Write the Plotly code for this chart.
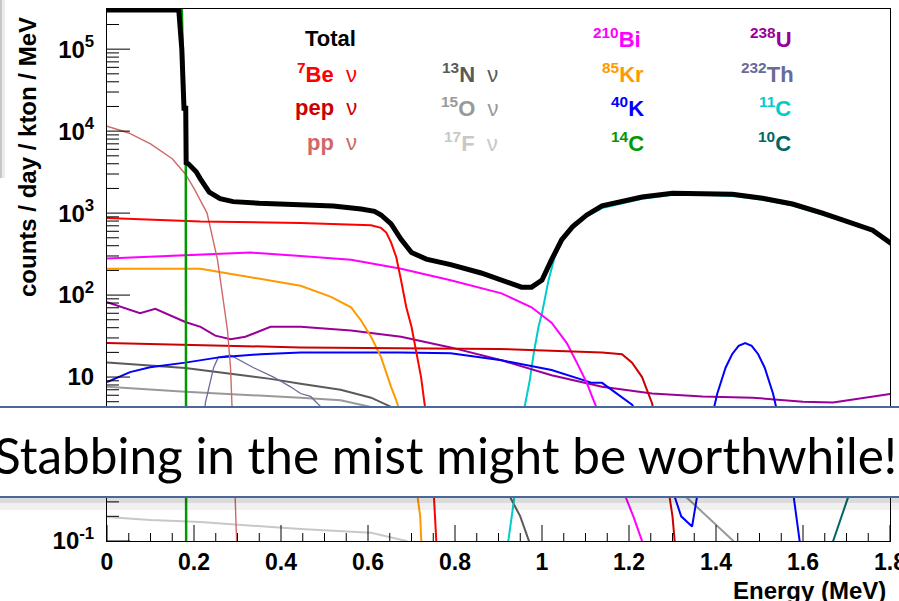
import math
import plotly.graph_objects as go

# ---------------- data ----------------
E_total = [0.0, 0.165, 0.172, 0.177, 0.181, 0.182, 0.187, 0.205, 0.215, 0.235, 0.26, 0.29, 0.35, 0.445,
           0.52, 0.584, 0.615, 0.63, 0.653, 0.676, 0.70, 0.734, 0.79, 0.86, 0.907, 0.953, 0.976, 1.0,
           1.022, 1.045, 1.07, 1.103, 1.138, 1.23, 1.30, 1.37, 1.438, 1.507, 1.576, 1.645, 1.715, 1.76, 1.807]
V_total = [3.0e5, 3.0e5, 1e5, 1.9e4, 1.9e4, 4.1e3, 4.0e3, 3.2e3, 2.6e3, 1.8e3, 1.5e3, 1.38e3, 1.32e3, 1.27e3,
           1.22e3, 1.12e3, 1.05e3, 9.5e2, 7.4e2, 4.8e2, 3.3e2, 2.75e2, 2.35e2, 1.86e2, 1.52e2, 1.25e2, 1.25e2, 1.52e2,
           2.7e2, 4.7e2, 6.8e2, 9.5e2, 1.23e3, 1.57e3, 1.75e3, 1.75e3, 1.7e3, 1.52e3, 1.29e3, 1.0e3, 7.6e2, 6.2e2, 4.1e2]

E_be7 = [0.0, 0.215, 0.445, 0.561, 0.607, 0.63, 0.642, 0.653, 0.665, 0.676, 0.688, 0.70, 0.711, 0.722, 0.729, 0.74, 0.75, 0.76]
V_be7 = [8.7e2, 7.9e2, 7.6e2, 7.3e2, 7.1e2, 6.6e2, 5.8e2, 4.4e2, 2.9e2, 1.52e2, 71, 41, 21, 10, 5.2, 2.0, 0.5, 0.05]

E_pep = [0.0, 0.445, 0.9, 1.138, 1.184, 1.207, 1.23, 1.242, 1.253, 1.28, 1.30, 1.31]
V_pep = [26, 23, 22, 20, 19, 15, 10, 7.0, 4.8, 1.0, 0.2, 0.05]

E_pp = [0.0, 0.05, 0.1, 0.15, 0.18, 0.2, 0.23, 0.254, 0.265, 0.277, 0.284, 0.288, 0.292, 0.296, 0.30]
V_pp = [1.15e4, 9.5e3, 7.0e3, 4.6e3, 3.0e3, 2.0e3, 1.0e3, 2.7e2, 1.05e2, 37, 13, 4.3, 1.0, 0.2, 0.05]

E_n13 = [0.0, 0.18, 0.284, 0.376, 0.445, 0.537, 0.607, 0.653, 0.75, 0.85, 0.92, 0.95, 0.97, 0.98]
V_n13 = [15, 12.9, 11, 9.5, 8.3, 7.0, 5.6, 4.3, 2.5, 1.0, 0.4, 0.2, 0.1, 0.05]

E_o15 = [0.0, 0.18, 0.445, 0.537, 0.607, 0.8, 1.0, 1.2, 1.33, 1.38, 1.44, 1.45]
V_o15 = [7.6, 6.6, 5.6, 5.2, 4.3, 2.8, 1.6, 0.8, 0.35, 0.2, 0.1, 0.05]

E_f17 = [0.0, 0.1, 0.215, 0.295, 0.445, 0.607, 0.665, 0.688, 0.70]
V_f17 = [0.196, 0.18, 0.17, 0.158, 0.14, 0.126, 0.106, 0.1, 0.09]

E_bi210 = [0.0, 0.215, 0.33, 0.445, 0.561, 0.676, 0.79, 0.907, 0.976, 1.022, 1.057, 1.08, 1.103, 1.115, 1.15, 1.18, 1.21, 1.25]
V_bi210 = [2.8e2, 3.1e2, 3.3e2, 3.0e2, 2.7e2, 2.1e2, 1.52e2, 1.05e2, 71, 46, 26, 15, 8.5, 5.8, 2.0, 0.5, 0.2, 0.05]

E_kr85 = [0.0, 0.215, 0.33, 0.445, 0.515, 0.561, 0.584, 0.607, 0.63, 0.642, 0.653, 0.665, 0.69, 0.71, 0.72, 0.725]
V_kr85 = [2.1e2, 2.1e2, 1.65e2, 1.3e2, 95, 71, 49, 31, 17.5, 11, 7.6, 5.2, 2.0, 0.5, 0.2, 0.05]

E_k40 = [0.0, 0.053, 0.099, 0.18, 0.261, 0.353, 0.445, 0.676, 0.79, 0.907, 1.022, 1.115, 1.138, 1.172, 1.207,
         1.25, 1.29, 1.32, 1.345, 1.36, 1.377, 1.403, 1.422, 1.437, 1.452, 1.467, 1.482, 1.497, 1.512, 1.531,
         1.557, 1.577, 1.597, 1.61]
V_k40 = [8.7, 11.5, 13.2, 15, 17.5, 19, 20, 20, 19.5, 16, 12.2, 8.5, 8.5, 6.3, 4.6,
         2.0, 0.6, 0.2, 0.15, 0.45, 1.6, 6.3, 13, 19, 24, 26, 24, 19, 13, 6.3,
         1.6, 0.4, 0.075, 0.02]

E_c14 = [0.0, 0.172, 0.177, 0.181, 0.182]
V_c14 = [3.0e5, 3.0e5, 1.9e4, 1.9e4, 0.05]

E_u238 = [0.0, 0.076, 0.111, 0.145, 0.18, 0.215, 0.249, 0.284, 0.318, 0.376, 0.445, 0.561, 0.676, 0.79, 0.907,
          1.022, 1.138, 1.253, 1.369, 1.484, 1.60, 1.669, 1.738, 1.807]
V_u238 = [82, 60, 68, 57, 47, 41, 32, 29, 31, 41, 41, 37, 31, 23, 16,
          10.5, 7.6, 6.3, 5.8, 5.6, 5.0, 4.9, 5.6, 6.3]

E_th232 = [0.218, 0.226, 0.245, 0.256, 0.284, 0.337, 0.383, 0.422, 0.445, 0.468, 0.492, 0.52, 0.55]
V_th232 = [1.0, 4.8, 13, 17.5, 18.5, 13, 10, 7.6, 6.3, 5.8, 4.3, 2.0, 1.0]

E_c11 = [0.92, 0.935, 0.95, 0.96, 0.972, 0.981, 0.992, 1.0, 1.015, 1.029, 1.052, 1.075, 1.138, 1.23, 1.30,
         1.37, 1.438, 1.507, 1.576, 1.645, 1.715, 1.76, 1.807]
V_c11 = [0.08, 0.3, 1.5, 4.3, 9.2, 19.5, 41, 60, 1.52e2, 2.9e2, 5.1e2, 7.6e2, 1.15e3, 1.5e3, 1.68e3,
         1.68e3, 1.62e3, 1.45e3, 1.24e3, 9.6e2, 7.3e2, 6.0e2, 3.95e2]

E_c10 = [1.65, 1.68, 1.70, 1.72, 1.75, 1.80]
V_c10 = [0.05, 0.15, 0.3, 0.6, 1.5, 4.0]

# name, E, V, color, width  (drawing order: first = bottom)
series = [
    ("17F", E_f17, V_f17, "#c8c8c8", 2),
    ("15O", E_o15, V_o15, "#999999", 2),
    ("13N", E_n13, V_n13, "#5a5a5a", 2),
    ("10C", E_c10, V_c10, "#006666", 2),
    ("11C", E_c11, V_c11, "#00cccc", 2),
    ("232Th", E_th232, V_th232, "#6a6a9a", 1.3),
    ("238U", E_u238, V_u238, "#990099", 2),
    ("40K", E_k40, V_k40, "#0000ff", 2),
    ("85Kr", E_kr85, V_kr85, "#ff9900", 2),
    ("210Bi", E_bi210, V_bi210, "#ff00ff", 2),
    ("pep", E_pep, V_pep, "#cc0000", 2),
    ("pp", E_pp, V_pp, "#d06868", 1.4),
    ("7Be", E_be7, V_be7, "#ff0000", 2),
    ("14C", E_c14, V_c14, "#009900", 2.5),
    ("Total", E_total, V_total, "#000000", 5),
]

legend_labels = [
    ("<b>Total</b>", "#000000", 330, 39, "center"),
    ("<b><sup>7</sup>Be</b>  ν", "#ff0000", 359, 73, "right"),
    ("<b>pep</b>  ν", "#cc0000", 359, 107, "right"),
    ("<b>pp</b>  ν", "#d06868", 359, 142, "right"),
    ("<b><sup>13</sup>N</b>  ν", "#5a5a5a", 500, 73, "right"),
    ("<b><sup>15</sup>O</b>  ν", "#999999", 500, 107, "right"),
    ("<b><sup>17</sup>F</b>  ν", "#c8c8c8", 500, 142, "right"),
    ("<b><sup>210</sup>Bi</b>", "#ff00ff", 643, 38, "right"),
    ("<b><sup>85</sup>Kr</b>", "#ff9900", 646, 73, "right"),
    ("<b><sup>40</sup>K</b>", "#0000ff", 646, 107, "right"),
    ("<b><sup>14</sup>C</b>", "#009900", 646, 142, "right"),
    ("<b><sup>238</sup>U</b>", "#990099", 794, 38, "right"),
    ("<b><sup>232</sup>Th</b>", "#6a6a9a", 796, 73, "right"),
    ("<b><sup>11</sup>C</b>", "#00cccc", 793, 107, "right"),
    ("<b><sup>10</sup>C</b>", "#006666", 793, 142, "right"),
]

X_RANGE = [0.0, 1.8]
Y_RANGE = [-1.0, 5.49]   # log10
y_tick_vals = [0.1, 1, 10, 100, 1e3, 1e4, 1e5]
y_tick_text = ["10<sup>-1</sup>", "1", "10", "10<sup>2</sup>", "10<sup>3</sup>", "10<sup>4</sup>", "10<sup>5</sup>"]
x_major = [0.2 * i for i in range(10)]
x_minor = [0.05 * i for i in range(37) if i % 4 != 0]
y_minor = [k * 10.0 ** n for n in range(-1, 6) for k in range(2, 10) if math.log10(k * 10.0 ** n) < Y_RANGE[1]]

# ---------------- layout geometry ----------------
W, H = 899, 601
L, R, T, B = 107, 9, 9, 60
PW, PH = W - L - R, H - T - B


def px(xp):
    return (xp - L) / PW


def py(yp):
    return (H - B - yp) / PH


def ey(v):  # data value -> paper y
    return (math.log10(v) - Y_RANGE[0]) / (Y_RANGE[1] - Y_RANGE[0])


def ex(e):  # energy -> paper x
    return (e - X_RANGE[0]) / (X_RANGE[1] - X_RANGE[0])


fig = go.Figure()
for name, e, v, col, w in series:
    fig.add_trace(go.Scatter(x=e, y=v, mode="lines", name=name,
                             line=dict(color=col, width=w), showlegend=False))

FONT = "Liberation Sans, Arial, sans-serif"

fig.update_xaxes(range=X_RANGE, tickmode="array", tickvals=x_major,
                 ticktext=["0", "0.2", "0.4", "0.6", "0.8", "1", "1.2", "1.4", "1.6", "1.8"],
                 ticks="", showline=True, linecolor="black", linewidth=1, mirror=True,
                 showgrid=False, zeroline=False, ticklabeloverflow="allow", automargin=False,
                 tickfont=dict(family=FONT, size=23, color="black", weight="bold"),
                 ticklabelstandoff=0)
fig.update_yaxes(type="log", range=Y_RANGE, tickmode="array", tickvals=y_tick_vals, ticktext=y_tick_text,
                 ticks="", showline=True, linecolor="black", linewidth=1, mirror=True,
                 showgrid=False, zeroline=False, automargin=False,
                 tickfont=dict(family=FONT, size=24, color="black", weight="bold"),
                 ticklabelstandoff=7)

annotations = []
for txt, col, xp, yp, anc in legend_labels:
    annotations.append(dict(text=txt, x=px(xp), y=py(yp), xref="paper", yref="paper",
                            xanchor=anc, yanchor="middle", showarrow=False,
                            font=dict(family=FONT, size=22, color=col)))
annotations.append(dict(text="<b>counts / day / kton / MeV</b>", x=px(27), y=py(157), xref="paper",
                        yref="paper", textangle=-90, xanchor="center", yanchor="middle", showarrow=False,
                        font=dict(family=FONT, size=24, color="black")))
annotations.append(dict(text="<b>Energy (MeV)</b>", x=px(888), y=py(590), xref="paper", yref="paper",
                        xanchor="right", yanchor="middle", showarrow=False,
                        font=dict(family=FONT, size=24, color="black")))
annotations.append(dict(text="Stabbing in the mist might be worthwhile!", x=px(445), y=py(455),
                        xref="paper", yref="paper", xanchor="center", yanchor="middle", showarrow=False,
                        font=dict(family="Lato, Carlito, sans-serif", size=49.5, color="black")))

shapes = []
# axis ticks (inside, ROOT style)
tick_line = dict(color="black", width=1)
for v in y_tick_vals:
    shapes.append(dict(type="line", xref="paper", yref="paper", x0=0, x1=23 / PW, y0=ey(v), y1=ey(v),
                       line=tick_line, layer="above"))
for v in y_minor:
    shapes.append(dict(type="line", xref="paper", yref="paper", x0=0, x1=12 / PW, y0=ey(v), y1=ey(v),
                       line=tick_line, layer="above"))
for e in x_major:
    shapes.append(dict(type="line", xref="paper", yref="paper", x0=ex(e), x1=ex(e), y0=0, y1=16 / PH,
                       line=tick_line, layer="above"))
for e in x_minor:
    shapes.append(dict(type="line", xref="paper", yref="paper", x0=ex(e), x1=ex(e), y0=0, y1=8 / PH,
                       line=tick_line, layer="above"))

shapes += [
    # slide shadow at the left edge
    dict(type="rect", xref="paper", yref="paper", x0=px(0), x1=px(2), y0=py(178), y1=py(0),
         fillcolor="rgba(0,0,0,0.22)", line=dict(width=0), layer="above"),
    dict(type="rect", xref="paper", yref="paper", x0=px(2), x1=px(5), y0=py(178), y1=py(0),
         fillcolor="rgba(0,0,0,0.08)", line=dict(width=0), layer="above"),
    # shadow below the text box
    dict(type="rect", xref="paper", yref="paper", x0=px(-5), x1=px(905), y0=py(503), y1=py(497),
         fillcolor="rgba(0,0,0,0.14)", line=dict(width=0), layer="above"),
    dict(type="rect", xref="paper", yref="paper", x0=px(-5), x1=px(905), y0=py(510), y1=py(503),
         fillcolor="rgba(0,0,0,0.06)", line=dict(width=0), layer="above"),
    # text box
    dict(type="rect", xref="paper", yref="paper", x0=px(-5), x1=px(905), y0=py(497), y1=py(407),
         fillcolor="white", line=dict(color="#4a6898", width=2), layer="above"),
]

fig.update_layout(width=W, height=H, autosize=False,
                  margin=dict(l=L, r=R, t=T, b=B, pad=0),
                  paper_bgcolor="white", plot_bgcolor="white",
                  annotations=annotations, shapes=shapes, showlegend=False)

fig.write_html("out.html")
